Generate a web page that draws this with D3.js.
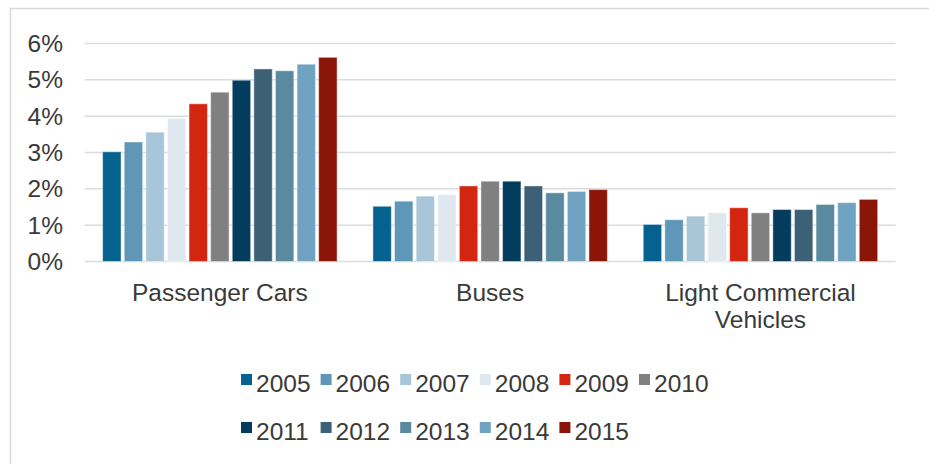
<!DOCTYPE html>
<html lang="en">
<head>
  <meta charset="UTF-8">
  <title>Share by vehicle type, 2005-2015</title>
  <script src="https://d3js.org/d3.v7.min.js"></script>
  <style>
    body {
      margin: 0;
      overflow: hidden;
      background: #fff;
    }
    svg {
      display: block;
      font-family: "Liberation Sans", Arial, sans-serif;
    }
  </style>
</head>
<body>
  <svg id="chart"></svg>

  <script>
    // Data
    const categories = ["Passenger Cars", "Buses", "Light Commercial Vehicles"];
    const years = ["2005", "2006", "2007", "2008", "2009", "2010", "2011", "2012", "2013", "2014", "2015"];
    const passengerCars = [3.02, 3.29, 3.56, 3.93, 4.34, 4.66, 4.99, 5.30, 5.25, 5.43, 5.62];
    const buses = [1.52, 1.66, 1.80, 1.84, 2.08, 2.21, 2.21, 2.08, 1.89, 1.93, 1.98];
    const lightCommercial = [1.02, 1.15, 1.25, 1.34, 1.48, 1.34, 1.43, 1.43, 1.57, 1.62, 1.71];
    const yTicks = [0, 1, 2, 3, 4, 5, 6];
    const colors = ["#05628f", "#5f97b8", "#a9c6d9", "#dfe7ef", "#d42510", "#808080",
                    "#023d5d", "#3c6177", "#598a9f", "#70a3c2", "#8b1508"];

    const seriesByCategory = [passengerCars, buses, lightCommercial];

    const width = 929;
    const height = 464;
    const plot = { left: 84.7, right: 895.6, top: 43.5, bottom: 261.5 };
    const fontSize = 24.5;

    const svg = d3.select("#chart")
      .attr("width", width)
      .attr("height", height);

    // light frame (top and left edges visible in the picture)
    svg.append("rect")
      .attr("x", 10.5)
      .attr("y", 8.5)
      .attr("width", 1000)
      .attr("height", 1000)
      .attr("fill", "none")
      .attr("stroke", "#d9d9d9")
      .attr("stroke-width", 1.5);

    // Scales
    const x0 = d3.scaleBand()
      .domain(categories)
      .range([plot.left, plot.right]);

    const x1 = d3.scaleBand()
      .domain(years)
      .range([0, x0.bandwidth()])
      .paddingInner(0.148)
      .paddingOuter(0.83);

    const y = d3.scaleLinear()
      .domain([0, 6])
      .range([plot.bottom, plot.top]);

    const color = d3.scaleOrdinal().domain(years).range(colors);

    // Gridlines
    svg.append("g")
      .selectAll("line")
      .data(yTicks)
      .join("line")
      .attr("x1", plot.left)
      .attr("x2", plot.right)
      .attr("y1", d => y(d))
      .attr("y2", d => y(d))
      .attr("stroke", "#dcdcdc")
      .attr("stroke-width", 1.5);

    // Y axis labels
    const yAxis = d3.axisLeft(y)
      .tickValues(yTicks)
      .tickFormat(d => d + "%")
      .tickSize(0)
      .tickPadding(0);

    const yAxisG = svg.append("g")
      .attr("transform", `translate(63,0)`)
      .call(yAxis);
    yAxisG.select(".domain").remove();
    yAxisG.selectAll("text")
      .attr("font-size", fontSize)
      .attr("font-family", "Liberation Sans, Arial, sans-serif")
      .attr("fill", "#3a3a3a");

    // Bars
    const groups = svg.append("g")
      .selectAll("g")
      .data(categories)
      .join("g")
      .attr("transform", d => `translate(${x0(d)},0)`);

    groups.selectAll("rect")
      .data((d, i) => years.map((yr, j) => ({ year: yr, value: seriesByCategory[i][j] })))
      .join("rect")
      .attr("x", d => x1(d.year))
      .attr("y", d => y(d.value))
      .attr("width", x1.bandwidth())
      .attr("height", d => y(0) - y(d.value))
      .attr("fill", d => color(d.year))
      .attr("stroke", "rgba(255,255,255,0.45)")
      .attr("stroke-width", 1);

    // Category labels (wrapped to band width)
    const xAxis = d3.axisBottom(x0).tickSize(0).tickPadding(0);
    const xAxisG = svg.append("g")
      .attr("transform", `translate(0,${plot.bottom})`)
      .call(xAxis);
    xAxisG.select(".domain").remove();
    xAxisG.selectAll("text")
      .attr("font-size", fontSize)
      .attr("font-family", "Liberation Sans, Arial, sans-serif")
      .attr("fill", "#3a3a3a")
      .attr("dy", null)
      .attr("y", 39)
      .each(function () { wrap(d3.select(this), x0.bandwidth() - 10); });

    function wrap(text, maxWidth) {
      const words = text.text().split(/\s+/);
      text.text(null);
      let line = [];
      let lineNo = 0;
      let tspan = text.append("tspan").attr("x", 0).attr("y", 39);
      words.forEach(w => {
        line.push(w);
        tspan.text(line.join(" "));
        if (tspan.node().getComputedTextLength() > maxWidth && line.length > 1) {
          line.pop();
          tspan.text(line.join(" "));
          line = [w];
          lineNo++;
          tspan = text.append("tspan").attr("x", 0).attr("y", 39 + lineNo * 27).text(w);
        }
      });
    }

    // Legend: two rows, six columns
    const legendX = 241;
    const legendStep = 79.6;
    const rowBaselines = [392, 440];
    const perRow = 6;

    const legend = svg.append("g")
      .selectAll("g")
      .data(years)
      .join("g")
      .attr("transform", (d, i) => {
        const col = i % perRow;
        const row = Math.floor(i / perRow);
        return `translate(${legendX + col * legendStep},${rowBaselines[row]})`;
      });

    legend.append("rect")
      .attr("x", 0)
      .attr("y", -18)
      .attr("width", 11)
      .attr("height", 11)
      .attr("fill", d => color(d));

    legend.append("text")
      .attr("x", 15)
      .attr("y", 0)
      .attr("font-size", fontSize)
      .attr("fill", "#3a3a3a")
      .text(d => d);
  </script>
</body>
</html>
